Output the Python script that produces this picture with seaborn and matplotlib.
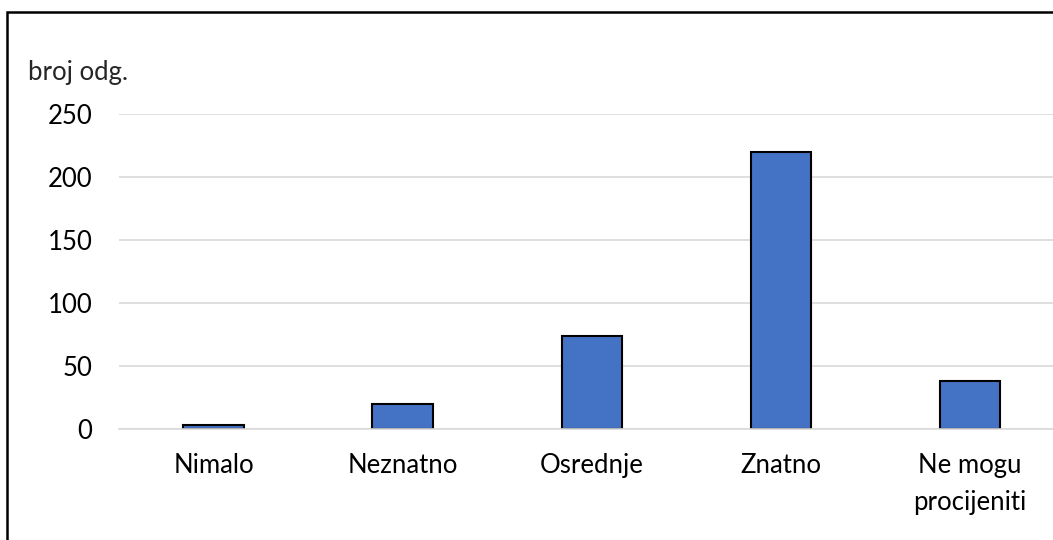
import matplotlib
matplotlib.use("Agg")
import matplotlib.pyplot as plt
import seaborn as sns
import pandas as pd
from matplotlib.patches import Rectangle

# podaci s grafikona
categories = ["Nimalo", "Neznatno", "Osrednje", "Znatno", "Ne mogu\nprocijeniti"]
counts = [3, 20, 74, 220, 38]
y_ticks = [0, 50, 100, 150, 200, 250]

df = pd.DataFrame({"kategorija": categories, "broj": counts})

sns.set_theme(style="white")
plt.rcParams["font.family"] = ["Lato", "DejaVu Sans"]

fig = plt.figure(figsize=(10.53, 5.4), dpi=100)
# plot area je odrezan s desne strane, kao u originalu
ax = fig.add_axes([0.113, 0.2056, 0.898, 0.5834])

sns.barplot(data=df, x="kategorija", y="broj", color="#4472C4", width=0.32,
            edgecolor="black", linewidth=1.5, saturation=1, ax=ax)

ax.set_ylim(0, 250)
ax.set_yticks(y_ticks)
ax.set_xlim(-0.5, len(categories) - 0.5)
ax.yaxis.grid(True, color="#d9d9d9", linewidth=1.2)
ax.set_axisbelow(True)
for s in ["top", "right", "left"]:
    ax.spines[s].set_visible(False)
ax.spines["bottom"].set_color("#d9d9d9")
ax.spines["bottom"].set_linewidth(1.2)
ax.tick_params(axis="y", length=0, pad=19, labelsize=18.5, colors="black")
ax.tick_params(axis="x", length=0, pad=17, labelsize=18.5, colors="black")
for lbl in ax.get_xticklabels():
    lbl.set_linespacing(1.6)
ax.set_xlabel("")
ax.set_ylabel("")

fig.text(0.027, 0.866, "broj odg.", fontsize=18.5, ha="left", va="center")

# okvir (vidljiv samo lijevi i gornji rub)
fig.patches.append(Rectangle((0.0066, -0.1), 2, 1.078, transform=fig.transFigure,
                             fill=False, edgecolor="black", linewidth=1.8))

fig.savefig("out.png", dpi=100, facecolor="white")
